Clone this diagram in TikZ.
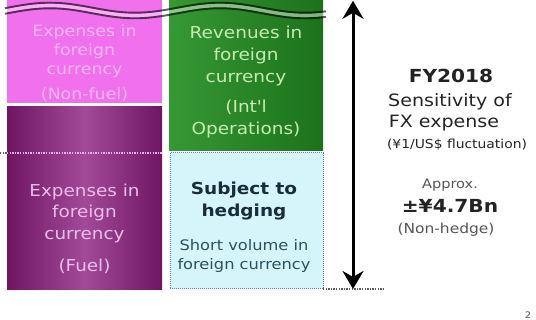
\documentclass[tikz,border=0pt]{standalone}
\usepackage{fontspec}
\setmainfont[FakeStretch=1.12]{DejaVu Sans}
\usetikzlibrary{arrows.meta}
\definecolor{pinkfill}{RGB}{240,112,238}
\definecolor{pinktext}{RGB}{250,184,250}
\definecolor{purpleedge}{RGB}{110,22,100}
\definecolor{purplemid}{RGB}{162,74,152}
\definecolor{purpletext}{RGB}{234,190,234}
\definecolor{greenlight}{RGB}{54,152,52}
\definecolor{greendark}{RGB}{28,114,28}
\definecolor{greentext}{RGB}{198,236,178}
\definecolor{cyanfill}{RGB}{214,245,250}
\definecolor{cyanborder}{RGB}{96,124,222}
\definecolor{hedgetext}{RGB}{24,44,58}
\definecolor{shorttext}{RGB}{40,82,96}
\definecolor{darktext}{RGB}{35,35,35}
\definecolor{greytext}{RGB}{85,85,85}
\definecolor{dotgrey}{RGB}{90,90,90}
\definecolor{dotlight}{RGB}{235,180,235}
\begin{document}
\begin{tikzpicture}[x=1pt,y=-1pt,
  block/.style={inner sep=0pt, outer sep=0pt, anchor=north west},
  blocktext/.style={inner sep=0pt, align=center, anchor=north},
  sidetext/.style={inner sep=0pt, anchor=base, text=darktext},
  dotline/.style={line width=1.3pt, dash pattern=on 1.3pt off 1.3pt},
  waveline/.style={black, opacity=0.62, line width=1.9pt},
  bigarrow/.style={line width=3pt, >={Stealth[length=18pt,width=21pt,inset=6pt]}, <->}]
\useasboundingbox (0,0) rectangle (536,320);
% blocks
\node[block, fill=pinkfill, minimum width=155pt, minimum height=103pt] (pink) at (7,0) {};
\node[block, left color=purpleedge, right color=purpleedge, middle color=purplemid,
      minimum width=155pt, minimum height=183pt] (purple) at (7,107) {};
\node[block, left color=greenlight, right color=greendark,
      minimum width=154pt, minimum height=151pt] (green) at (169,0) {};
\node[block, fill=cyanfill, draw=cyanborder, line width=1pt, dash pattern=on 1pt off 1pt,
      minimum width=153pt, minimum height=136pt] (cyan) at (170,153) {};
% wave break
\draw[white, opacity=0.45, line width=3.6pt]
  plot[domain=5:326, samples=120, smooth] (\x, {10.5-5*cos((\x-50)/170*360)});
\draw[waveline]
  plot[domain=5:326, samples=120, smooth] (\x, {7.7-5*cos((\x-50)/170*360)});
\draw[waveline]
  plot[domain=5:326, samples=120, smooth] (\x, {13.3-5*cos((\x-50)/170*360)});
% dotted lines
\coordinate (dl0) at (0,153);
\coordinate (dl1) at (7,153);
\coordinate (dl2) at (162,153);
\draw[dotline, dotgrey] (dl0) -- (dl1);
\draw[dotline, dotlight] (dl1) -- (dl2);
\coordinate (bdl) at (385,289);
\draw[dotline, dotgrey] (cyan.south east) -- (bdl);
% block texts
\node[blocktext, text=pinktext, font=\fontsize{15.5}{19}\selectfont] (pinktxt) at (84.5,24.6)
  {Expenses in\\foreign\\currency\\[6pt](Non-fuel)};
\node[blocktext, text=purpletext, font=\fontsize{16.4}{21.5}\selectfont] (purpletxt) at (84.5,183.6)
  {Expenses in\\foreign\\currency\\[10.5pt](Fuel)};
\node[blocktext, text=greentext, font=\fontsize{16.5}{22}\selectfont] (greentxt) at (246,25.5)
  {Revenues in\\foreign\\currency\\[8pt](Int\textquotesingle l\\Operations)};
\node[blocktext, text=hedgetext, font=\bfseries\fontsize{16.5}{22.5}\selectfont] (hedgetxt) at (244,181.5)
  {Subject to\\hedging};
\node[blocktext, text=shorttext, font=\fontsize{14.5}{19.5}\selectfont] (shorttxt) at (244,239)
  {Short volume in\\foreign currency};
% arrow
\coordinate (atop) at (353,0.8);
\coordinate (abot) at (353,289);
\draw[bigarrow] (atop) -- (abot);
% side texts
\node[sidetext, font=\bfseries\fontsize{18}{20}\selectfont] (fy) at (451,83) {FY2018};
\node[sidetext, font=\fontsize{17}{20}\selectfont] (sens) at (450,107) {Sensitivity of};
\node[sidetext, font=\fontsize{17}{20}\selectfont] (fx) at (444,128) {FX expense};
\node[sidetext, font=\fontsize{12.4}{15}\selectfont] (fluct) at (457,149) {(¥1/US\$ fluctuation)};
\node[sidetext, text=greytext, font=\fontsize{13}{15}\selectfont] (approx) at (450,189) {Approx.};
\node[sidetext, font=\bfseries\fontsize{18}{20}\selectfont] (amt) at (450,213) {±¥4.7Bn};
\node[sidetext, text=greytext, font=\fontsize{13.8}{16}\selectfont] (nh) at (446,234) {(Non-hedge)};
\node[sidetext, text=greytext, font=\fontsize{9}{10}\selectfont] (pg) at (528,319) {2};
\end{tikzpicture}
\end{document}
